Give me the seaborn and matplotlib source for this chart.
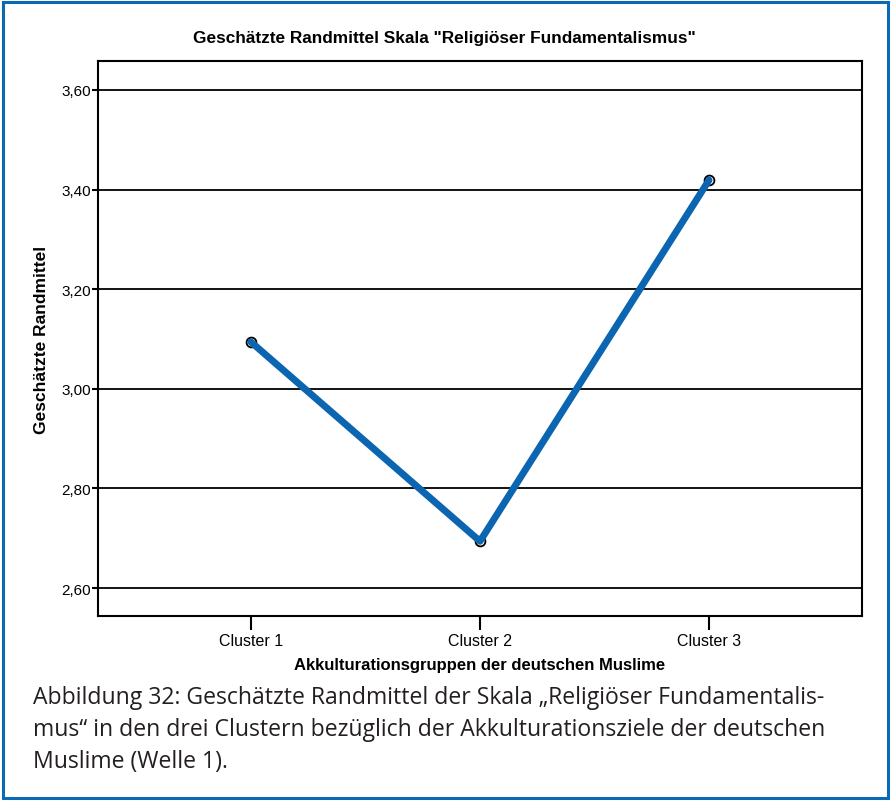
import numpy as np
import pandas as pd
import matplotlib
matplotlib.use("Agg")
import matplotlib.pyplot as plt
import matplotlib.ticker as ticker
import matplotlib.patches as patches
import seaborn as sns

# Daten: geschätzte Randmittel je Cluster
clusters = ["Cluster 1", "Cluster 2", "Cluster 3"]
randmittel = [3.094, 2.694, 3.419]
y_ticks = [2.60, 2.80, 3.00, 3.20, 3.40, 3.60]

title = 'Geschätzte Randmittel Skala "Religiöser Fundamentalismus"'
xlabel = "Akkulturationsgruppen der deutschen Muslime"
ylabel = "Geschätzte Randmittel"
caption = ["Abbildung 32: Geschätzte Randmittel der Skala \u201eReligiöser Fundamentalis-",
           "mus\u201c in den drei Clustern bezüglich der Akkulturationsziele der deutschen",
           "Muslime (Welle 1)."]

df = pd.DataFrame({"cluster": clusters, "wert": randmittel})

sns.set_style("white")
plt.rcParams['font.family'] = ['Liberation Sans', 'DejaVu Sans']
plt.rcParams['text.color'] = 'black'
plt.rcParams['axes.labelcolor'] = 'black'
plt.rcParams['xtick.color'] = 'black'
plt.rcParams['ytick.color'] = 'black'

fig = plt.figure(figsize=(8.91, 8.03), dpi=100)
ax = fig.add_axes([98 / 891, 1 - 617 / 803, (862 - 98) / 891, (617 - 62) / 803])

# Linie und Marker
sns.lineplot(data=df, x="cluster", y="wert", ax=ax, color="#0b65b1",
             linewidth=5, zorder=3, solid_capstyle="round")
sns.scatterplot(data=df, x="cluster", y="wert", ax=ax, s=50, facecolor="white",
                edgecolor="black", linewidth=1.3, zorder=2)

ax.set_xlim(-0.668, 2.668)
ax.set_ylim(2.544, 3.658)
ax.set_yticks(y_ticks)
ax.yaxis.set_major_formatter(ticker.FuncFormatter(lambda v, p: f"{v:.2f}".replace(".", ",")))

# horizontale Gitterlinien
ax.grid(False)
for yt in y_ticks:
    ax.axhline(yt, color="black", linewidth=1.3, zorder=1)

for side in ax.spines.values():
    side.set_color("black")
    side.set_linewidth(1.5)

ax.tick_params(axis="x", direction="out", length=10, width=1.5, color="black",
               labelsize=11.5, pad=2, bottom=True, labelcolor="black")
ax.tick_params(axis="y", direction="out", length=4, width=1.5, color="black",
               labelsize=11, pad=1, left=True, labelcolor="black")

# Titel über der ganzen Abbildung zentriert
fig.text(444 / 891, 1 - 39 / 803, title, fontsize=12.4, fontweight="bold",
         color="black", ha="center", va="center")
ax.set_xlabel(xlabel, fontsize=12, fontweight="bold", labelpad=7, color="black")
ax.set_ylabel(ylabel, fontsize=12.5, fontweight="bold", labelpad=9, color="black")

# Bildunterschrift
for i, line in enumerate(caption):
    fig.text(33 / 891, 1 - (698 + 32 * i) / 803, line, fontsize=16.6,
             family=["Open Sans", "DejaVu Sans"], color="#231f20", va="center", ha="left")

# blauer Rahmen
fig.patches.append(patches.Rectangle((3 / 891, 4 / 803), 885 / 891, 796 / 803,
                                     transform=fig.transFigure, fill=False,
                                     edgecolor="#0a6ab4", linewidth=2.2))

fig.savefig("out.png", dpi=100)
